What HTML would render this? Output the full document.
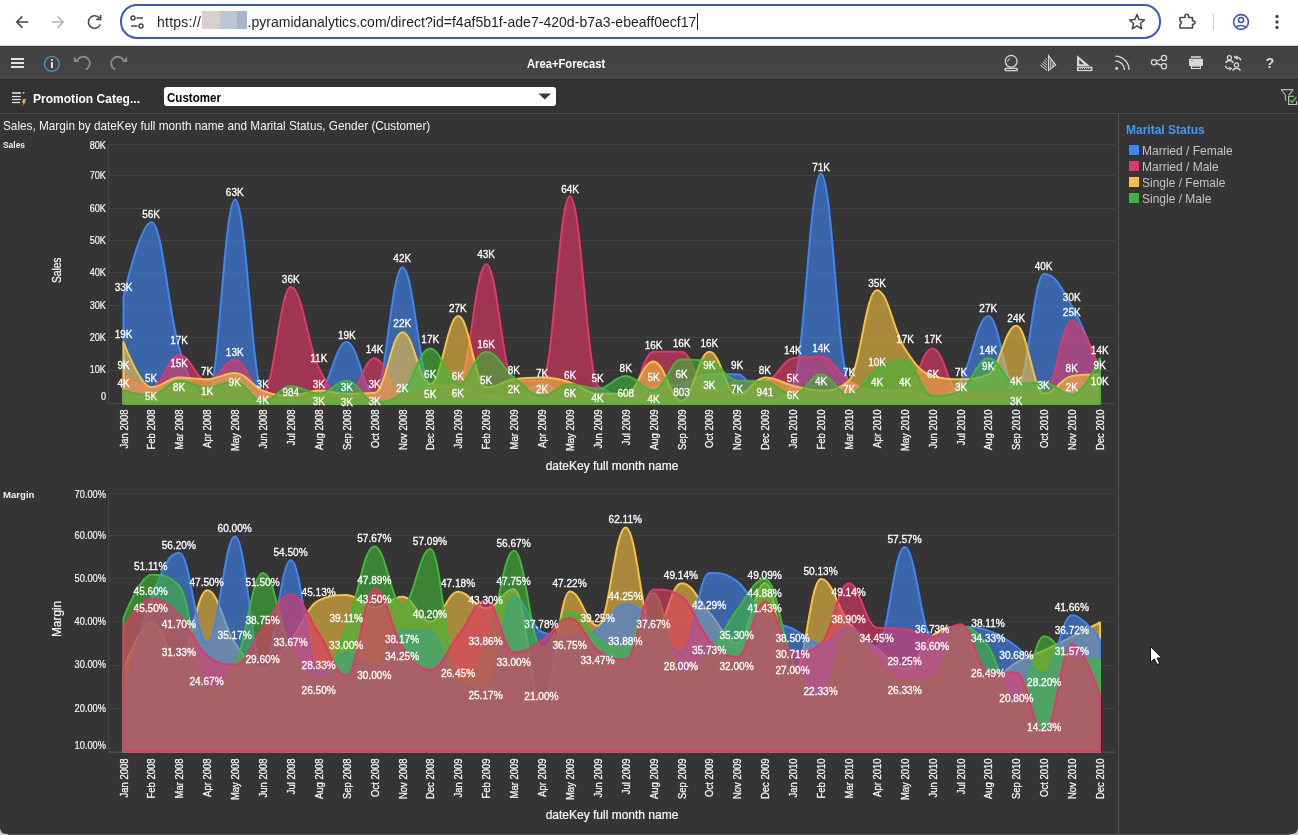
<!DOCTYPE html>
<html><head><meta charset="utf-8"><title>Area+Forecast</title>
<style>
html,body{margin:0;padding:0}
body{width:1298px;height:835px;overflow:hidden;background:#353535;position:relative;font-family:"Liberation Sans",Arial,sans-serif}
.abs{position:absolute}
#browser{left:0;top:0;width:1298px;height:46px;background:#fff}
#url{left:120px;top:4px;width:1037px;height:31px;border:2px solid #3a56c8;border-radius:17px;background:#fff}
.urlt{top:14px;font-size:14px;line-height:16px;color:#1f1f1f;white-space:nowrap}
#toolbar{left:0;top:46px;width:1298px;height:33px;background:linear-gradient(#3c3c3c 0px,#424242 2px,#454545 100%)}
#tbline{left:0;top:79px;width:1298px;height:1px;background:#2b2b2b}
#filterbar{left:0;top:80px;width:1298px;height:33px;background:#333}
#fbline{left:0;top:113px;width:1298px;height:1px;background:#4a4a4a}
#fbline2{left:1119px;top:113px;width:179px;height:1px;background:#4a4a4a}
#title{left:527px;top:57px;color:#fff;font-weight:bold;font-size:12.6px;transform:scaleX(0.89);transform-origin:0 0;white-space:nowrap}
#promo{left:33.3px;top:90.5px;color:#fff;font-weight:bold;font-size:13px;transform:scaleX(0.926);transform-origin:0 0;white-space:nowrap}
#dd{left:164px;top:87px;width:392px;height:19px;background:#fff;border-radius:3px}
#ddtext{left:166.8px;top:89.5px;color:#000;font-weight:bold;font-size:13.3px;transform:scaleX(0.87);transform-origin:0 0;white-space:nowrap}
#vsep{left:1118px;top:114px;width:1px;height:721px;background:#4f4f4f}
#ctitle{left:2.8px;top:118.5px;color:#f4f4f4;font-size:11.9px;white-space:nowrap;transform:scaleX(0.99);transform-origin:0 0}
#salesl{left:3px;top:139px;color:#f0f0f0;font-size:9.8px;font-weight:bold;transform:scaleX(0.86);transform-origin:0 0}
#marginl{left:3px;top:488.6px;color:#f0f0f0;font-size:9.8px;font-weight:bold;transform:scaleX(0.98);transform-origin:0 0}
#legtitle{left:1126px;top:123px;color:#3d9bf5;font-weight:bold;font-size:12px}
.leg{position:absolute;left:1129px;width:10px;height:10px}
.legt{position:absolute;left:1142px;margin-top:0.8px;color:#c4c4c4;font-size:12px;white-space:nowrap}
#charts{position:absolute;left:0;top:0}
</style></head><body>
<div class="abs" id="browser"></div>
<div class="abs" style="left:0;top:45px;width:1298px;height:1px;background:#dadada"></div>
<!-- browser nav icons -->
<svg class="abs" style="left:0;top:0" width="130" height="46" viewBox="0 0 130 46">
 <g fill="none" stroke="#474747" stroke-width="1.6" stroke-linecap="square">
  <path d="M27.5,22 H17 M21.8,17 L16.8,22 L21.8,27"/>
 </g>
 <g fill="none" stroke="#b4b4b4" stroke-width="1.6" stroke-linecap="square">
  <path d="M52.5,22 H63 M58.2,17 L63.2,22 L58.2,27"/>
 </g>
 <g fill="none" stroke="#474747" stroke-width="1.6">
  <path d="M99.5,18.2 A6.2,6.2 0 1 0 100.3,24.5"/>
  <path d="M100.6,15 V19.4 H96.2" stroke-linejoin="miter"/>
 </g>
</svg>
<div class="abs" id="url"></div>
<svg class="abs" style="left:128px;top:13px" width="18" height="18" viewBox="0 0 18 18">
 <g fill="none" stroke="#474747" stroke-width="1.5">
  <circle cx="5" cy="5" r="2"/><path d="M8.5,5 H15"/>
  <circle cx="13" cy="13" r="2"/><path d="M3,13 H9.5"/>
 </g>
</svg>
<div class="abs urlt" style="left:157px;letter-spacing:0.25px">https://</div>
<div class="abs urlt" id="urlrest" style="left:247.5px;letter-spacing:0.03px">.pyramidanalytics.com/direct?id=f4af5b1f-ade7-420d-b7a3-ebeaff0ecf17</div>
<div class="abs" style="left:202px;top:11px;width:18px;height:18px;background:#d9cfcf"></div>
<div class="abs" style="left:220px;top:11px;width:17px;height:18px;background:#bbc5d3"></div>
<div class="abs" style="left:237px;top:11px;width:10px;height:18px;background:#a2b5cc"></div>
<div class="abs" style="left:697px;top:13px;width:1px;height:17px;background:#1f1f1f"></div>
<svg class="abs" style="left:1126px;top:11px" width="22" height="22" viewBox="0 0 22 22">
 <path d="M11,3.5 L13.1,8.6 L18.5,9 L14.4,12.5 L15.7,17.8 L11,14.9 L6.3,17.8 L7.6,12.5 L3.5,9 L8.9,8.6 Z" fill="none" stroke="#474747" stroke-width="1.5" stroke-linejoin="round"/>
</svg>
<svg class="abs" style="left:1176px;top:11px" width="22" height="22" viewBox="0 0 22 22">
 <path d="M4,6.5 H9 V5 A1.8,1.8 0 0 1 12.6,5 V6.5 H16.5 V10 H17.5 A1.6,1.6 0 0 1 17.5,13.2 H16.5 V17 H4 V13.5 A2,2 0 0 0 4,9.8 Z" fill="none" stroke="#474747" stroke-width="1.6" stroke-linejoin="round"/>
</svg>
<div class="abs" style="left:1213px;top:14px;width:1px;height:16px;background:#c5d0f0"></div>
<svg class="abs" style="left:1230px;top:11px" width="22" height="22" viewBox="0 0 22 22">
 <g fill="none" stroke="#3a56c8" stroke-width="1.6">
  <circle cx="11" cy="11" r="7.4"/><circle cx="11" cy="9" r="2.5"/>
  <path d="M6,16.3 A6,4 0 0 1 16,16.3"/>
 </g>
</svg>
<svg class="abs" style="left:1270px;top:11px" width="14" height="22" viewBox="0 0 14 22">
 <g fill="#474747"><circle cx="7" cy="5.5" r="1.7"/><circle cx="7" cy="11" r="1.7"/><circle cx="7" cy="16.5" r="1.7"/></g>
</svg>

<div class="abs" id="toolbar"></div>
<div class="abs" id="tbline"></div>
<!-- left toolbar icons -->
<svg class="abs" style="left:0;top:46px" width="140" height="33" viewBox="0 0 140 33">
 <g fill="#e2e2e2"><rect x="11" y="12" width="13" height="2"/><rect x="11" y="16" width="13" height="2"/><rect x="11" y="20" width="13" height="2"/></g>
 <circle cx="51.8" cy="17.9" r="7.4" fill="none" stroke="#4a9fd6" stroke-width="1.2"/>
 <rect x="51" y="16" width="1.8" height="6" fill="#f0f0f0"/><rect x="51" y="13" width="1.8" height="1.8" fill="#f0f0f0"/>
 <g fill="none" stroke="#8a8a8a" stroke-width="1.9" stroke-linecap="round">
  <path d="M77.8,13.6 A6.6,6.6 0 1 1 86.4,23.1"/>
  <path d="M123.2,13.6 A6.6,6.6 0 1 0 114.6,23.1"/>
 </g>
 <g fill="#8a8a8a">
  <path d="M73.8,10.6 L73.8,16 L79.2,16 Z"/>
  <path d="M127.2,10.6 L127.2,16 L121.8,16 Z"/>
 </g>
</svg>
<div class="abs" id="title">Area+Forecast</div>
<!-- right toolbar icons -->
<svg class="abs" style="left:995px;top:46px" width="303" height="33" viewBox="995 46 303 33">
 <g fill="none" stroke="#d8d8d8" stroke-width="1.25">
  <circle cx="1011.2" cy="61.3" r="5.9"/>
  <path d="M1007.6,61.8 A3.8,3.8 0 0 1 1010.2,58.4" stroke-width="1"/>
  <rect x="1005.2" y="68.3" width="12" height="2.4" rx="0.4"/>
  <path d="M1047.03,56.83 L1047.00,56.81 M1045.67,58.47 L1047.00,59.51 M1044.30,60.10 L1047.00,62.22 M1042.93,61.73 L1047.00,64.92 M1041.57,63.37 L1047.00,67.63 M1040.20,65.00 L1047.00,70.33" stroke-width="1"/>
  <path d="M1048.6,55.8 L1055.6,65 L1048.6,70.4 Z" stroke-width="1.2"/>
  <path d="M1050.8,59.5 V68.5 M1053,62.5 V66.8" stroke-width="1"/>
  <rect x="1077.6" y="67.2" width="14.2" height="3.3"/>
  <path d="M1078.60,67.6 V69 M1080.55,67.6 V69 M1082.50,67.6 V69 M1084.45,67.6 V69 M1086.40,67.6 V69 M1088.35,67.6 V69 M1090.30,67.6 V69" stroke-width="0.9"/>
  <path d="M1115.3,60.8 A9.2,9.2 0 0 1 1124.5,70 M1115.3,56.2 A13.8,13.8 0 0 1 1129.1,70" stroke-width="1.3"/>
  <circle cx="1154" cy="62.3" r="2.6"/><circle cx="1164" cy="58" r="2.6"/><circle cx="1164" cy="66.3" r="2.6"/>
  <path d="M1156.4,61.2 L1161.6,59 M1156.4,63.4 L1161.6,65.3"/>
  <rect x="1191.4" y="66" width="9" height="2.5" stroke-width="1.1"/>
  <circle cx="1229.4" cy="57.8" r="2.1" stroke-width="1.2"/><path d="M1225.6,62.9 A4.2,4 0 0 1 1233.3,62.9" stroke-width="1.4"/>
  <circle cx="1236.5" cy="64.9" r="2.1" stroke-width="1.2"/><path d="M1232.7,70.6 A4.2,4 0 0 1 1240.4,70.6" stroke-width="1.4"/>
  <path d="M1240.8,60.4 A3.6,3.2 0 0 0 1236.4,57.5" stroke-width="1.4"/>
  <path d="M1225.4,65.8 A3.6,3.2 0 0 0 1229.6,68.6" stroke-width="1.4"/>
 </g>
 <g fill="#d8d8d8">
  <circle cx="1116.6" cy="68.2" r="1.5"/>
  <path d="M1077,55.3 L1077,66.1 L1089.9,66.1 Z M1079.3,59.6 L1079.3,64.2 L1083.8,64.2 Z" fill-rule="evenodd"/>
  <rect x="1190.9" y="56.2" width="10" height="1.6"/>
  <rect x="1189" y="58.8" width="14" height="7.2" rx="1"/>
  <path d="M1234,55.6 L1237,57.6 L1237,59.6 L1234,57.6 Z M1234.2,57.4 L1237.6,55.2 L1237.6,59.8 Z"/>
  <path d="M1232.2,68.6 L1229.4,66.4 L1229.4,70.8 Z"/>
  <text x="1269.9" y="67.9" font-size="14.5" font-weight="bold" text-anchor="middle" font-family="Liberation Sans, sans-serif">?</text>
 </g>
 <rect x="1191.3" y="60" width="1.6" height="0.7" fill="#555"/>
</svg>

<div class="abs" id="filterbar"></div>
<div class="abs" id="fbline"></div>
<div class="abs" id="fbline2"></div>
<svg class="abs" style="left:8px;top:88px" width="22" height="20" viewBox="8 88 22 20">
 <g fill="#e4e4e4"><rect x="12" y="92.2" width="8.9" height="1.6"/><rect x="12" y="95.9" width="8.9" height="1.2"/><rect x="12" y="98.9" width="8.9" height="1.2"/><rect x="12" y="101.9" width="8" height="1.2"/>
 <path d="M22.1,92.2 L25,92.2 L23.55,93.9 Z"/></g>
 <path d="M23.3,99 L26.1,99 L24.6,101.6 L26,101.6 L22.3,106 L23.4,102.6 L21.9,102.6 Z" fill="#f5b02e"/>
</svg>
<div class="abs" id="promo">Promotion Categ...</div>
<div class="abs" id="dd"></div>
<div class="abs" id="ddtext">Customer</div>
<svg class="abs" style="left:537px;top:92px" width="16" height="9" viewBox="0 0 16 9"><path d="M1.5,1.5 H14 L7.75,7.5 Z" fill="#3a3a3a"/></svg>
<svg class="abs" style="left:1279px;top:88px" width="19" height="19" viewBox="1279 88 19 19">
 <path d="M1281.8,89.6 H1292.6 Q1293.4,89.6 1292.9,90.3 L1288.7,95.2 M1281.8,89.6 Q1281,89.6 1281.5,90.3 L1285.4,95 V99.8 Q1285.4,100.4 1286.4,100.4" fill="none" stroke="#bdbdbd" stroke-width="1.05"/>
 <path d="M1293.9,96.3 H1288.6 V104.5 H1296.6 V101.2" fill="none" stroke="#c6c6c6" stroke-width="1.1"/>
 <path d="M1290.4,100.6 L1292,102.4 L1295.8,97.7" fill="none" stroke="#3cbb3c" stroke-width="1.7" stroke-linecap="round" stroke-linejoin="round"/>
</svg>

<div class="abs" id="vsep"></div>
<div class="abs" id="ctitle">Sales, Margin by dateKey full month name and Marital Status, Gender (Customer)</div>
<div class="abs" id="salesl">Sales</div>
<div class="abs" id="marginl">Margin</div>
<div class="abs" id="legtitle">Marital Status</div>
<div class="leg" style="top:145px;background:#3d86f5"></div><div class="legt" style="top:143px">Married / Female</div>
<div class="leg" style="top:161px;background:#e0386c"></div><div class="legt" style="top:159px">Married / Male</div>
<div class="leg" style="top:177px;background:#fbbd45"></div><div class="legt" style="top:175px">Single / Female</div>
<div class="leg" style="top:193px;background:#3cb53c"></div><div class="legt" style="top:191px">Single / Male</div>
<svg id="charts" width="1298" height="835" viewBox="0 0 1298 835">
<rect x="109" y="144" width="1006" height="1" fill="#414141"/>
<rect x="109" y="175" width="1006" height="1" fill="#414141"/>
<rect x="109" y="208" width="1006" height="1" fill="#414141"/>
<rect x="109" y="240" width="1006" height="1" fill="#414141"/>
<rect x="109" y="272" width="1006" height="1" fill="#414141"/>
<rect x="109" y="305" width="1006" height="1" fill="#414141"/>
<rect x="109" y="337" width="1006" height="1" fill="#414141"/>
<rect x="109" y="370" width="1006" height="1" fill="#414141"/>
<rect x="109" y="403" width="1006" height="1" fill="#4b4b4b"/>
<rect x="109" y="493" width="1006" height="1" fill="#414141"/>
<rect x="109" y="535" width="1006" height="1" fill="#414141"/>
<rect x="109" y="578" width="1006" height="1" fill="#414141"/>
<rect x="109" y="621" width="1006" height="1" fill="#414141"/>
<rect x="109" y="665" width="1006" height="1" fill="#414141"/>
<rect x="109" y="708" width="1006" height="1" fill="#414141"/>
<rect x="109" y="751" width="1006" height="1" fill="#444444"/>
<rect x="109" y="752" width="1006" height="1" fill="#4b4b4b"/>
<rect x="108" y="144" width="1" height="259" fill="#464646"/>
<rect x="108" y="493" width="1" height="259" fill="#464646"/>
<path d="M123.50,296.66 C123.50,296.66 140.24,222.20 151.40,222.20 C162.56,222.20 168.14,312.85 179.30,348.46 C190.46,384.07 196.04,400.26 207.20,400.26 C218.36,400.26 223.94,199.54 235.10,199.54 C246.26,199.54 251.84,387.31 263.00,393.79 C274.16,400.26 279.74,400.26 290.90,400.26 C302.06,400.26 307.64,400.26 318.80,393.79 C329.96,387.31 335.54,341.99 346.70,341.99 C357.86,341.99 363.44,393.79 374.60,393.79 C385.76,393.79 391.34,267.52 402.50,267.52 C413.66,267.52 419.24,380.84 430.40,384.07 C441.56,387.31 447.14,385.05 458.30,387.31 C469.46,389.58 475.04,393.79 486.20,395.41 C497.36,397.02 502.94,397.02 514.10,397.02 C525.26,397.02 530.84,384.07 542.00,384.07 C553.16,384.07 558.74,393.79 569.90,393.79 C581.06,393.79 586.64,387.31 597.80,387.31 C608.96,387.31 614.54,401.56 625.70,401.56 C636.86,401.56 642.44,390.55 653.60,387.31 C664.76,384.07 670.34,386.67 681.50,384.07 C692.66,381.48 698.24,374.36 709.40,374.36 C720.56,374.36 726.14,374.36 737.30,374.36 C748.46,374.36 754.04,400.59 765.20,400.59 C776.36,400.59 781.94,400.59 793.10,384.07 C804.26,367.56 809.84,173.64 821.00,173.64 C832.16,173.64 837.74,371.12 848.90,380.84 C860.06,390.55 865.64,390.55 876.80,390.55 C887.96,390.55 893.54,390.55 904.70,390.55 C915.86,390.55 921.44,397.02 932.60,397.02 C943.76,397.02 949.34,397.02 960.50,380.84 C971.66,364.65 977.24,316.09 988.40,316.09 C999.56,316.09 1005.14,390.55 1016.30,390.55 C1027.46,390.55 1033.04,274.00 1044.20,274.00 C1055.36,274.00 1060.94,286.95 1072.10,306.38 C1083.26,325.80 1100.00,371.12 1100.00,371.12 L1100.00,403.50 L123.50,403.50 Z" fill="#3d86f5" fill-opacity="0.6" stroke="#3d86f5" stroke-width="2" stroke-linejoin="round"/>

<path d="M123.50,374.36 C123.50,374.36 140.24,387.31 151.40,387.31 C162.56,387.31 168.14,354.94 179.30,354.94 C190.46,354.94 196.04,380.84 207.20,380.84 C218.36,380.84 223.94,360.12 235.10,360.12 C246.26,360.12 251.84,392.17 263.00,392.17 C274.16,392.17 279.74,286.95 290.90,286.95 C302.06,286.95 307.64,345.87 318.80,367.89 C329.96,389.90 335.54,397.02 346.70,397.02 C357.86,397.02 363.44,358.18 374.60,358.18 C385.76,358.18 391.34,397.02 402.50,397.02 C413.66,397.02 419.24,389.90 430.40,387.31 C441.56,384.72 447.14,387.31 458.30,384.07 C469.46,380.84 475.04,264.29 486.20,264.29 C497.36,264.29 502.94,380.84 514.10,380.84 C525.26,380.84 530.84,380.84 542.00,380.84 C553.16,380.84 558.74,196.30 569.90,196.30 C581.06,196.30 586.64,371.13 597.80,385.69 C608.96,400.26 614.54,400.26 625.70,400.26 C636.86,400.26 642.44,351.70 653.60,351.70 C664.76,351.70 670.34,351.70 681.50,351.70 C692.66,351.70 698.24,393.79 709.40,393.79 C720.56,393.79 726.14,380.84 737.30,380.84 C748.46,380.84 754.04,380.84 765.20,380.84 C776.36,380.84 781.94,359.79 793.10,358.18 C804.26,356.56 809.84,356.56 821.00,356.56 C832.16,356.56 837.74,374.04 848.90,380.84 C860.06,387.64 865.64,390.55 876.80,390.55 C887.96,390.55 893.54,390.55 904.70,390.55 C915.86,390.55 921.44,348.46 932.60,348.46 C943.76,348.46 949.34,393.79 960.50,393.79 C971.66,393.79 977.24,393.79 988.40,393.79 C999.56,393.79 1005.14,393.79 1016.30,393.79 C1027.46,393.79 1033.04,393.79 1044.20,393.79 C1055.36,393.79 1060.94,320.94 1072.10,320.94 C1083.26,320.94 1100.00,371.12 1100.00,371.12 L1100.00,403.50 L123.50,403.50 Z" fill="#e53668" fill-opacity="0.6" stroke="#e53668" stroke-width="2" stroke-linejoin="round"/>

<path d="M123.50,341.99 C123.50,341.99 140.24,387.31 151.40,387.31 C162.56,387.31 168.14,377.60 179.30,377.60 C190.46,377.60 196.04,379.22 207.20,379.22 C218.36,379.22 223.94,373.07 235.10,373.07 C246.26,373.07 251.84,385.95 263.00,390.55 C274.16,395.15 279.74,396.05 290.90,396.05 C302.06,396.05 307.64,390.55 318.80,390.55 C329.96,390.55 335.54,393.79 346.70,393.79 C357.86,393.79 363.44,393.79 374.60,392.82 C385.76,391.85 391.34,332.27 402.50,332.27 C413.66,332.27 419.24,384.07 430.40,384.07 C441.56,384.07 447.14,316.09 458.30,316.09 C469.46,316.09 475.04,387.31 486.20,387.31 C497.36,387.31 502.94,380.84 514.10,379.22 C525.26,377.60 530.84,377.60 542.00,377.60 C553.16,377.60 558.74,379.22 569.90,382.46 C581.06,385.69 586.64,393.79 597.80,393.79 C608.96,393.79 614.54,393.79 625.70,393.79 C636.86,393.79 642.44,361.41 653.60,361.41 C664.76,361.41 670.34,400.91 681.50,400.91 C692.66,400.91 698.24,351.70 709.40,351.70 C720.56,351.70 726.14,394.76 737.30,394.76 C748.46,394.76 754.04,377.60 765.20,377.60 C776.36,377.60 781.94,383.10 793.10,385.69 C804.26,388.28 809.84,390.55 821.00,390.55 C832.16,390.55 837.74,390.55 848.90,380.84 C860.06,371.12 865.64,290.19 876.80,290.19 C887.96,290.19 893.54,331.30 904.70,348.46 C915.86,365.62 921.44,372.74 932.60,375.98 C943.76,379.22 949.34,379.22 960.50,379.22 C971.66,379.22 977.24,379.22 988.40,374.36 C999.56,369.51 1005.14,325.80 1016.30,325.80 C1027.46,325.80 1033.04,393.79 1044.20,393.79 C1055.36,393.79 1060.94,377.60 1072.10,375.98 C1083.26,374.36 1100.00,374.36 1100.00,374.36 L1100.00,403.50 L123.50,403.50 Z" fill="#f6c240" fill-opacity="0.6" stroke="#f6c240" stroke-width="2" stroke-linejoin="round"/>

<path d="M123.50,390.55 C123.50,390.55 140.24,395.41 151.40,395.41 C162.56,395.41 168.14,380.84 179.30,380.84 C190.46,380.84 196.04,387.31 207.20,387.31 C218.36,387.31 223.94,381.49 235.10,381.49 C246.26,381.49 251.84,401.88 263.00,401.88 C274.16,401.88 279.74,386.02 290.90,386.02 C302.06,386.02 307.64,393.79 318.80,393.79 C329.96,393.79 335.54,380.84 346.70,380.84 C357.86,380.84 363.44,401.88 374.60,401.88 C385.76,401.88 391.34,401.88 402.50,392.17 C413.66,382.46 419.24,348.46 430.40,348.46 C441.56,348.46 447.14,384.07 458.30,384.07 C469.46,384.07 475.04,351.70 486.20,351.70 C497.36,351.70 502.94,368.73 514.10,377.60 C525.26,386.47 530.84,396.05 542.00,396.05 C553.16,396.05 558.74,384.07 569.90,384.07 C581.06,384.07 586.64,388.93 597.80,388.93 C608.96,388.93 614.54,375.98 625.70,375.98 C636.86,375.98 642.44,390.55 653.60,390.55 C664.76,390.55 670.34,359.47 681.50,359.47 C692.66,359.47 698.24,359.47 709.40,361.41 C720.56,363.36 726.14,379.87 737.30,380.84 C748.46,381.81 754.04,380.84 765.20,381.81 C776.36,382.78 781.94,394.76 793.10,394.76 C804.26,394.76 809.84,374.36 821.00,374.36 C832.16,374.36 837.74,394.44 848.90,394.44 C860.06,394.44 865.64,376.43 876.80,369.51 C887.96,362.58 893.54,359.79 904.70,359.79 C915.86,359.79 921.44,396.05 932.60,396.05 C943.76,396.05 949.34,396.05 960.50,390.55 C971.66,385.05 977.24,358.18 988.40,358.18 C999.56,358.18 1005.14,384.07 1016.30,384.07 C1027.46,384.07 1033.04,382.46 1044.20,382.46 C1055.36,382.46 1060.94,395.08 1072.10,395.08 C1083.26,395.08 1100.00,358.18 1100.00,358.18 L1100.00,403.50 L123.50,403.50 Z" fill="#40b836" fill-opacity="0.6" stroke="#40b836" stroke-width="2" stroke-linejoin="round"/>

<path d="M123.50,669.80 C123.50,669.80 140.24,622.50 151.40,622.50 C162.56,622.50 168.14,659.78 179.30,659.78 C190.46,659.78 196.04,590.25 207.20,590.25 C218.36,590.25 223.94,627.36 235.10,643.27 C246.26,659.18 251.84,669.80 263.00,669.80 C274.16,669.80 279.74,653.57 290.90,639.70 C302.06,625.83 307.64,605.90 318.80,600.44 C329.96,594.98 335.54,594.98 346.70,594.98 C357.86,594.98 363.44,607.45 374.60,607.45 C385.76,607.45 391.34,596.70 402.50,596.70 C413.66,596.70 419.24,621.64 430.40,621.64 C441.56,621.64 447.14,591.63 458.30,591.63 C469.46,591.63 475.04,608.31 486.20,608.31 C497.36,608.31 502.94,589.17 514.10,589.17 C525.26,589.17 530.84,704.20 542.00,704.20 C553.16,704.20 558.74,591.45 569.90,591.45 C581.06,591.45 586.64,625.73 597.80,625.73 C608.96,625.73 614.54,527.43 625.70,527.43 C636.86,527.43 642.44,632.52 653.60,632.52 C664.76,632.52 670.34,583.20 681.50,583.20 C692.66,583.20 698.24,600.75 709.40,612.65 C720.56,624.56 726.14,642.71 737.30,642.71 C748.46,642.71 754.04,582.94 765.20,582.94 C776.36,582.94 781.94,678.40 793.10,678.40 C804.26,678.40 809.84,578.94 821.00,578.94 C832.16,578.94 837.74,608.63 848.90,622.50 C860.06,636.37 865.64,639.05 876.80,648.30 C887.96,657.54 893.54,668.73 904.70,668.73 C915.86,668.73 921.44,643.78 932.60,635.40 C943.76,627.01 949.34,626.80 960.50,626.80 C971.66,626.80 977.24,680.59 988.40,680.59 C999.56,680.59 1005.14,668.60 1016.30,662.58 C1027.46,656.55 1033.04,655.64 1044.20,650.45 C1055.36,645.26 1060.94,642.19 1072.10,636.60 C1083.26,631.01 1100.00,622.50 1100.00,622.50 L1100.00,751.50 L123.50,751.50 Z" fill="#f6c240" fill-opacity="0.6" stroke="#f6c240" stroke-width="2" stroke-linejoin="round"/>

<path d="M123.50,699.90 C123.50,699.90 140.24,627.83 151.40,598.42 C162.56,569.01 168.14,552.84 179.30,552.84 C190.46,552.84 196.04,643.14 207.20,643.14 C218.36,643.14 223.94,536.50 235.10,536.50 C246.26,536.50 251.84,667.22 263.00,667.22 C274.16,667.22 279.74,560.15 290.90,560.15 C302.06,560.15 307.64,672.68 318.80,672.68 C329.96,672.68 335.54,652.60 346.70,652.60 C357.86,652.60 363.44,665.50 374.60,665.50 C385.76,665.50 391.34,630.37 402.50,630.37 C413.66,630.37 419.24,630.37 430.40,631.10 C441.56,631.83 447.14,683.43 458.30,684.85 C469.46,686.27 475.04,686.27 486.20,686.27 C497.36,686.27 502.94,596.70 514.10,596.70 C525.26,596.70 530.84,627.62 542.00,632.05 C553.16,636.48 558.74,636.48 569.90,636.48 C581.06,636.48 586.64,635.83 597.80,629.38 C608.96,622.93 614.54,604.23 625.70,604.23 C636.86,604.23 642.44,612.82 653.60,622.50 C664.76,632.17 670.34,652.60 681.50,652.60 C692.66,652.60 698.24,573.05 709.40,573.05 C720.56,573.05 726.14,573.05 737.30,581.65 C748.46,590.25 754.04,606.89 765.20,616.35 C776.36,625.81 781.94,623.42 793.10,628.95 C804.26,634.48 809.84,644.00 821.00,644.00 C832.16,644.00 837.74,627.23 848.90,627.23 C860.06,627.23 865.64,646.37 876.80,646.37 C887.96,646.37 893.54,546.95 904.70,546.95 C915.86,546.95 921.44,637.12 932.60,637.12 C943.76,637.12 949.34,626.80 960.50,626.80 C971.66,626.80 977.24,626.80 988.40,630.63 C999.56,634.45 1005.14,638.06 1016.30,646.58 C1027.46,655.10 1033.04,673.24 1044.20,673.24 C1055.36,673.24 1060.94,615.36 1072.10,615.36 C1083.26,615.36 1100.00,639.70 1100.00,639.70 L1100.00,751.50 L123.50,751.50 Z" fill="#3d86f5" fill-opacity="0.6" stroke="#3d86f5" stroke-width="2" stroke-linejoin="round"/>

<path d="M123.50,618.20 C123.50,618.20 140.24,574.73 151.40,574.73 C162.56,574.73 168.14,574.73 179.30,585.95 C190.46,597.17 196.04,688.42 207.20,688.42 C218.36,688.42 223.94,688.42 235.10,665.50 C246.26,642.58 251.84,573.05 263.00,573.05 C274.16,573.05 279.74,628.22 290.90,649.72 C302.06,671.22 307.64,680.55 318.80,680.55 C329.96,680.55 335.54,653.13 346.70,626.33 C357.86,599.52 363.44,546.52 374.60,546.52 C385.76,546.52 391.34,605.30 402.50,605.30 C413.66,605.30 419.24,549.01 430.40,549.01 C441.56,549.01 447.14,680.76 458.30,680.76 C469.46,680.76 475.04,674.89 486.20,648.90 C497.36,622.91 502.94,550.82 514.10,550.82 C525.26,550.82 530.84,648.30 542.00,648.30 C553.16,648.30 558.74,611.75 569.90,611.75 C581.06,611.75 586.64,632.29 597.80,639.70 C608.96,647.11 614.54,648.82 625.70,648.82 C636.86,648.82 642.44,593.26 653.60,593.26 C664.76,593.26 670.34,674.10 681.50,674.10 C692.66,674.10 698.24,665.50 709.40,652.60 C720.56,639.70 726.14,624.31 737.30,609.60 C748.46,594.89 754.04,579.07 765.20,579.07 C776.36,579.07 781.94,638.56 793.10,662.45 C804.26,686.33 809.84,698.48 821.00,698.48 C832.16,698.48 837.74,629.38 848.90,629.38 C860.06,629.38 865.64,651.68 876.80,662.06 C887.96,672.44 893.54,681.28 904.70,681.28 C915.86,681.28 921.44,681.28 932.60,678.40 C943.76,675.52 949.34,626.80 960.50,626.80 C971.66,626.80 977.24,631.23 988.40,646.88 C999.56,662.53 1005.14,705.06 1016.30,705.06 C1027.46,705.06 1033.04,636.26 1044.20,636.26 C1055.36,636.26 1060.94,658.02 1072.10,658.75 C1083.26,659.48 1100.00,659.48 1100.00,659.48 L1100.00,751.50 L123.50,751.50 Z" fill="#40b836" fill-opacity="0.6" stroke="#40b836" stroke-width="2" stroke-linejoin="round"/>

<path d="M123.50,627.66 C123.50,627.66 140.24,598.85 151.40,598.85 C162.56,598.85 168.14,603.75 179.30,615.19 C190.46,626.63 196.04,647.44 207.20,656.04 C218.36,664.64 223.94,664.64 235.10,664.64 C246.26,664.64 251.84,641.89 263.00,627.88 C274.16,613.86 279.74,594.55 290.90,594.55 C302.06,594.55 307.64,617.43 318.80,633.68 C329.96,649.93 335.54,675.82 346.70,675.82 C357.86,675.82 363.44,588.57 374.60,588.57 C385.76,588.57 391.34,630.98 402.50,647.23 C413.66,663.47 419.24,669.80 430.40,669.80 C441.56,669.80 447.14,649.33 458.30,635.40 C469.46,621.47 475.04,600.14 486.20,600.14 C497.36,600.14 502.94,652.60 514.10,652.60 C525.26,652.60 530.84,647.44 542.00,640.56 C553.16,633.68 558.74,618.20 569.90,618.20 C581.06,618.20 586.64,642.32 597.80,650.58 C608.96,658.84 614.54,659.48 625.70,659.48 C636.86,659.48 642.44,589.39 653.60,589.39 C664.76,589.39 670.34,589.39 681.50,596.70 C692.66,604.01 698.24,628.82 709.40,640.86 C720.56,652.90 726.14,656.90 737.30,656.90 C748.46,656.90 754.04,601.52 765.20,601.52 C776.36,601.52 781.94,652.60 793.10,652.60 C804.26,652.60 809.84,652.60 821.00,644.00 C832.16,635.40 837.74,583.20 848.90,583.20 C860.06,583.20 865.64,626.37 876.80,627.66 C887.96,628.95 893.54,627.66 904.70,628.95 C915.86,630.24 921.44,636.56 932.60,636.56 C943.76,636.56 949.34,624.22 960.50,624.22 C971.66,624.22 977.24,671.09 988.40,671.95 C999.56,672.81 1005.14,671.95 1016.30,672.81 C1027.46,673.67 1033.04,733.31 1044.20,733.31 C1055.36,733.31 1060.94,644.00 1072.10,644.00 C1083.26,644.00 1100.00,695.60 1100.00,695.60 L1100.00,751.50 L123.50,751.50 Z" fill="#e53668" fill-opacity="0.6" stroke="#e53668" stroke-width="2" stroke-linejoin="round"/>

<g font-size="11" fill="#ffffff" stroke="#ffffff" stroke-width="0.3" text-anchor="middle" font-family="Liberation Sans, sans-serif">
<text transform="translate(123.6,291.0) scale(0.905,1)">33K</text>
<text transform="translate(123.6,338.3) scale(0.905,1)">19K</text>
<text transform="translate(123.6,368.8) scale(0.905,1)">9K</text>
<text transform="translate(123.6,386.9) scale(0.905,1)">4K</text>
<text transform="translate(151.0,218.4) scale(0.905,1)">56K</text>
<text transform="translate(151.0,382.2) scale(0.905,1)">5K</text>
<text transform="translate(151.0,400.0) scale(0.905,1)">5K</text>
<text transform="translate(179.0,343.9) scale(0.905,1)">17K</text>
<text transform="translate(179.0,367.3) scale(0.905,1)">15K</text>
<text transform="translate(179.0,390.6) scale(0.905,1)">8K</text>
<text transform="translate(207.0,375.0) scale(0.905,1)">7K</text>
<text transform="translate(207.0,394.7) scale(0.905,1)">1K</text>
<text transform="translate(234.7,196.0) scale(0.905,1)">63K</text>
<text transform="translate(234.7,356.4) scale(0.905,1)">13K</text>
<text transform="translate(234.7,386.0) scale(0.905,1)">9K</text>
<text transform="translate(262.7,388.1) scale(0.905,1)">3K</text>
<text transform="translate(262.7,403.7) scale(0.905,1)">4K</text>
<text transform="translate(290.7,282.6) scale(0.905,1)">36K</text>
<text transform="translate(290.7,396.2) scale(0.905,1)">984</text>
<text transform="translate(318.8,362.0) scale(0.905,1)">11K</text>
<text transform="translate(318.8,388.1) scale(0.905,1)">3K</text>
<text transform="translate(318.8,404.6) scale(0.905,1)">3K</text>
<text transform="translate(346.8,339.2) scale(0.905,1)">19K</text>
<text transform="translate(346.8,390.6) scale(0.905,1)">3K</text>
<text transform="translate(346.8,405.6) scale(0.905,1)">3K</text>
<text transform="translate(374.5,353.3) scale(0.905,1)">14K</text>
<text transform="translate(374.5,388.1) scale(0.905,1)">3K</text>
<text transform="translate(374.5,404.6) scale(0.905,1)">3K</text>
<text transform="translate(402.2,262.3) scale(0.905,1)">42K</text>
<text transform="translate(402.2,327.4) scale(0.905,1)">22K</text>
<text transform="translate(402.2,392.2) scale(0.905,1)">2K</text>
<text transform="translate(430.2,343.0) scale(0.905,1)">17K</text>
<text transform="translate(430.2,377.5) scale(0.905,1)">6K</text>
<text transform="translate(430.2,397.8) scale(0.905,1)">5K</text>
<text transform="translate(457.9,312.3) scale(0.905,1)">27K</text>
<text transform="translate(457.9,380.1) scale(0.905,1)">6K</text>
<text transform="translate(457.9,397.3) scale(0.905,1)">6K</text>
<text transform="translate(486.0,258.0) scale(0.905,1)">43K</text>
<text transform="translate(486.0,348.2) scale(0.905,1)">16K</text>
<text transform="translate(486.0,384.4) scale(0.905,1)">5K</text>
<text transform="translate(513.9,373.8) scale(0.905,1)">8K</text>
<text transform="translate(513.9,393.3) scale(0.905,1)">2K</text>
<text transform="translate(542.1,377.2) scale(0.905,1)">7K</text>
<text transform="translate(542.1,392.5) scale(0.905,1)">2K</text>
<text transform="translate(570.0,193.3) scale(0.905,1)">64K</text>
<text transform="translate(570.0,379.0) scale(0.905,1)">6K</text>
<text transform="translate(570.0,397.3) scale(0.905,1)">6K</text>
<text transform="translate(597.6,382.1) scale(0.905,1)">5K</text>
<text transform="translate(597.6,401.9) scale(0.905,1)">4K</text>
<text transform="translate(625.7,372.3) scale(0.905,1)">8K</text>
<text transform="translate(625.7,397.3) scale(0.905,1)">608</text>
<text transform="translate(653.6,348.8) scale(0.905,1)">16K</text>
<text transform="translate(653.6,381.0) scale(0.905,1)">5K</text>
<text transform="translate(653.6,403.1) scale(0.905,1)">4K</text>
<text transform="translate(681.5,347.3) scale(0.905,1)">16K</text>
<text transform="translate(681.5,378.1) scale(0.905,1)">6K</text>
<text transform="translate(681.5,396.2) scale(0.905,1)">803</text>
<text transform="translate(709.4,347.3) scale(0.905,1)">16K</text>
<text transform="translate(709.4,368.6) scale(0.905,1)">9K</text>
<text transform="translate(709.4,389.0) scale(0.905,1)">3K</text>
<text transform="translate(737.0,368.6) scale(0.905,1)">9K</text>
<text transform="translate(737.0,393.0) scale(0.905,1)">7K</text>
<text transform="translate(764.9,374.2) scale(0.905,1)">8K</text>
<text transform="translate(764.9,396.3) scale(0.905,1)">941</text>
<text transform="translate(792.9,354.2) scale(0.905,1)">14K</text>
<text transform="translate(792.9,382.3) scale(0.905,1)">5K</text>
<text transform="translate(792.9,398.5) scale(0.905,1)">6K</text>
<text transform="translate(821.0,171.1) scale(0.905,1)">71K</text>
<text transform="translate(821.0,352.4) scale(0.905,1)">14K</text>
<text transform="translate(821.0,385.4) scale(0.905,1)">4K</text>
<text transform="translate(849.0,376.0) scale(0.905,1)">7K</text>
<text transform="translate(849.0,393.2) scale(0.905,1)">7K</text>
<text transform="translate(877.0,287.3) scale(0.905,1)">35K</text>
<text transform="translate(877.0,366.4) scale(0.905,1)">10K</text>
<text transform="translate(877.0,386.0) scale(0.905,1)">4K</text>
<text transform="translate(905.0,343.0) scale(0.905,1)">17K</text>
<text transform="translate(905.0,386.0) scale(0.905,1)">4K</text>
<text transform="translate(933.1,343.0) scale(0.905,1)">17K</text>
<text transform="translate(933.1,378.2) scale(0.905,1)">6K</text>
<text transform="translate(961.1,376.0) scale(0.905,1)">7K</text>
<text transform="translate(961.1,391.3) scale(0.905,1)">3K</text>
<text transform="translate(988.2,312.2) scale(0.905,1)">27K</text>
<text transform="translate(988.2,354.2) scale(0.905,1)">14K</text>
<text transform="translate(988.2,369.8) scale(0.905,1)">9K</text>
<text transform="translate(1016.2,322.2) scale(0.905,1)">24K</text>
<text transform="translate(1016.2,384.5) scale(0.905,1)">4K</text>
<text transform="translate(1016.2,404.7) scale(0.905,1)">3K</text>
<text transform="translate(1043.6,270.2) scale(0.905,1)">40K</text>
<text transform="translate(1043.6,389.1) scale(0.905,1)">3K</text>
<text transform="translate(1071.7,301.0) scale(0.905,1)">30K</text>
<text transform="translate(1071.7,316.0) scale(0.905,1)">25K</text>
<text transform="translate(1071.7,372.0) scale(0.905,1)">8K</text>
<text transform="translate(1071.7,391.3) scale(0.905,1)">2K</text>
<text transform="translate(1099.7,354.2) scale(0.905,1)">14K</text>
<text transform="translate(1099.7,368.9) scale(0.905,1)">9K</text>
<text transform="translate(1099.7,384.5) scale(0.905,1)">10K</text>
<text transform="translate(150.7,570.1) scale(0.917,1)">51.11%</text>
<text transform="translate(150.7,594.5) scale(0.917,1)">45.60%</text>
<text transform="translate(150.7,612.2) scale(0.917,1)">45.50%</text>
<text transform="translate(178.8,548.7) scale(0.917,1)">56.20%</text>
<text transform="translate(178.8,628.1) scale(0.917,1)">41.70%</text>
<text transform="translate(178.8,656.2) scale(0.917,1)">31.33%</text>
<text transform="translate(206.6,586.0) scale(0.917,1)">47.50%</text>
<text transform="translate(206.6,685.2) scale(0.917,1)">24.67%</text>
<text transform="translate(234.7,531.9) scale(0.917,1)">60.00%</text>
<text transform="translate(234.7,639.4) scale(0.917,1)">35.17%</text>
<text transform="translate(262.5,586.0) scale(0.917,1)">51.50%</text>
<text transform="translate(262.5,624.1) scale(0.917,1)">38.75%</text>
<text transform="translate(262.5,663.2) scale(0.917,1)">29.60%</text>
<text transform="translate(290.6,556.3) scale(0.917,1)">54.50%</text>
<text transform="translate(290.6,645.8) scale(0.917,1)">33.67%</text>
<text transform="translate(318.7,596.0) scale(0.917,1)">45.13%</text>
<text transform="translate(318.7,668.7) scale(0.917,1)">28.33%</text>
<text transform="translate(318.7,693.7) scale(0.917,1)">26.50%</text>
<text transform="translate(346.2,622.0) scale(0.917,1)">39.11%</text>
<text transform="translate(346.2,648.8) scale(0.917,1)">33.00%</text>
<text transform="translate(374.3,542.0) scale(0.917,1)">57.67%</text>
<text transform="translate(374.3,583.8) scale(0.917,1)">47.89%</text>
<text transform="translate(374.3,603.0) scale(0.917,1)">43.50%</text>
<text transform="translate(374.3,679.1) scale(0.917,1)">30.00%</text>
<text transform="translate(402.0,642.7) scale(0.917,1)">38.17%</text>
<text transform="translate(402.0,659.5) scale(0.917,1)">34.25%</text>
<text transform="translate(429.9,545.0) scale(0.917,1)">57.09%</text>
<text transform="translate(429.9,618.0) scale(0.917,1)">40.20%</text>
<text transform="translate(458.0,586.9) scale(0.917,1)">47.18%</text>
<text transform="translate(458.0,677.0) scale(0.917,1)">26.45%</text>
<text transform="translate(485.5,604.3) scale(0.917,1)">43.30%</text>
<text transform="translate(485.5,644.9) scale(0.917,1)">33.86%</text>
<text transform="translate(485.5,699.2) scale(0.917,1)">25.17%</text>
<text transform="translate(513.6,547.2) scale(0.917,1)">56.67%</text>
<text transform="translate(513.6,584.7) scale(0.917,1)">47.75%</text>
<text transform="translate(513.6,665.6) scale(0.917,1)">33.00%</text>
<text transform="translate(541.4,628.1) scale(0.917,1)">37.78%</text>
<text transform="translate(541.4,699.8) scale(0.917,1)">21.00%</text>
<text transform="translate(569.5,586.9) scale(0.917,1)">47.22%</text>
<text transform="translate(569.5,648.8) scale(0.917,1)">36.75%</text>
<text transform="translate(597.6,622.0) scale(0.917,1)">39.25%</text>
<text transform="translate(597.6,664.1) scale(0.917,1)">33.47%</text>
<text transform="translate(625.3,522.7) scale(0.917,1)">62.11%</text>
<text transform="translate(625.3,599.7) scale(0.917,1)">44.25%</text>
<text transform="translate(625.3,644.9) scale(0.917,1)">33.88%</text>
<text transform="translate(653.4,628.1) scale(0.917,1)">37.67%</text>
<text transform="translate(680.9,579.2) scale(0.917,1)">49.14%</text>
<text transform="translate(680.9,669.9) scale(0.917,1)">28.00%</text>
<text transform="translate(709.0,608.8) scale(0.917,1)">42.29%</text>
<text transform="translate(709.0,654.0) scale(0.917,1)">35.73%</text>
<text transform="translate(736.6,639.4) scale(0.917,1)">35.30%</text>
<text transform="translate(736.6,669.9) scale(0.917,1)">32.00%</text>
<text transform="translate(764.7,579.2) scale(0.917,1)">49.09%</text>
<text transform="translate(764.7,596.9) scale(0.917,1)">44.88%</text>
<text transform="translate(764.7,612.2) scale(0.917,1)">41.43%</text>
<text transform="translate(792.5,641.8) scale(0.917,1)">38.50%</text>
<text transform="translate(792.5,658.0) scale(0.917,1)">30.71%</text>
<text transform="translate(792.5,673.9) scale(0.917,1)">27.00%</text>
<text transform="translate(820.6,574.6) scale(0.917,1)">50.13%</text>
<text transform="translate(820.6,694.6) scale(0.917,1)">22.33%</text>
<text transform="translate(848.7,596.0) scale(0.917,1)">49.14%</text>
<text transform="translate(848.7,622.9) scale(0.917,1)">38.90%</text>
<text transform="translate(876.5,641.8) scale(0.917,1)">34.45%</text>
<text transform="translate(904.6,543.2) scale(0.917,1)">57.57%</text>
<text transform="translate(904.6,665.3) scale(0.917,1)">29.25%</text>
<text transform="translate(904.6,693.7) scale(0.917,1)">26.33%</text>
<text transform="translate(932.1,632.7) scale(0.917,1)">36.73%</text>
<text transform="translate(932.1,650.1) scale(0.917,1)">36.60%</text>
<text transform="translate(988.0,626.6) scale(0.917,1)">38.11%</text>
<text transform="translate(988.0,642.4) scale(0.917,1)">34.33%</text>
<text transform="translate(988.0,676.9) scale(0.917,1)">26.49%</text>
<text transform="translate(1016.4,659.0) scale(0.917,1)">30.68%</text>
<text transform="translate(1016.4,701.5) scale(0.917,1)">20.80%</text>
<text transform="translate(1044.2,686.4) scale(0.917,1)">28.20%</text>
<text transform="translate(1044.2,730.6) scale(0.917,1)">14.23%</text>
<text transform="translate(1071.8,611.4) scale(0.917,1)">41.66%</text>
<text transform="translate(1071.8,633.6) scale(0.917,1)">36.72%</text>
<text transform="translate(1071.8,655.1) scale(0.917,1)">31.57%</text>
</g>
<g font-size="10" fill="#f4f4f4" stroke="#f4f4f4" stroke-width="0.2" text-anchor="end" font-family="Liberation Sans, sans-serif">
<text transform="translate(106,149.1) scale(0.92,1)">80K</text>
<text transform="translate(106,179.4) scale(0.92,1)">70K</text>
<text transform="translate(106,211.9) scale(0.92,1)">60K</text>
<text transform="translate(106,243.8) scale(0.92,1)">50K</text>
<text transform="translate(106,276.0) scale(0.92,1)">40K</text>
<text transform="translate(106,308.6) scale(0.92,1)">30K</text>
<text transform="translate(106,340.6) scale(0.92,1)">20K</text>
<text transform="translate(106,373.1) scale(0.92,1)">10K</text>
<text transform="translate(106,400.1) scale(0.92,1)">0</text>
<text transform="translate(106,497.6) scale(0.926,1)">70.00%</text>
<text transform="translate(106,539.2) scale(0.926,1)">60.00%</text>
<text transform="translate(106,582.0) scale(0.926,1)">50.00%</text>
<text transform="translate(106,625.1) scale(0.926,1)">40.00%</text>
<text transform="translate(106,668.3) scale(0.926,1)">30.00%</text>
<text transform="translate(106,711.6) scale(0.926,1)">20.00%</text>
<text transform="translate(106,749.3) scale(0.926,1)">10.00%</text>
</g>
<g font-size="11" fill="#f8f8f8" stroke="#f8f8f8" stroke-width="0.25" text-anchor="end" font-family="Liberation Sans, sans-serif">
<text transform="translate(127.5,409.5) rotate(-90) scale(0.862,1)">Jan 2008</text>
<text transform="translate(155.4,409.5) rotate(-90) scale(0.862,1)">Feb 2008</text>
<text transform="translate(183.3,409.5) rotate(-90) scale(0.862,1)">Mar 2008</text>
<text transform="translate(211.2,409.5) rotate(-90) scale(0.862,1)">Apr 2008</text>
<text transform="translate(239.1,409.5) rotate(-90) scale(0.862,1)">May 2008</text>
<text transform="translate(267.0,409.5) rotate(-90) scale(0.862,1)">Jun 2008</text>
<text transform="translate(294.9,409.5) rotate(-90) scale(0.862,1)">Jul 2008</text>
<text transform="translate(322.8,409.5) rotate(-90) scale(0.862,1)">Aug 2008</text>
<text transform="translate(350.7,409.5) rotate(-90) scale(0.862,1)">Sep 2008</text>
<text transform="translate(378.6,409.5) rotate(-90) scale(0.862,1)">Oct 2008</text>
<text transform="translate(406.5,409.5) rotate(-90) scale(0.862,1)">Nov 2008</text>
<text transform="translate(434.4,409.5) rotate(-90) scale(0.862,1)">Dec 2008</text>
<text transform="translate(462.3,409.5) rotate(-90) scale(0.862,1)">Jan 2009</text>
<text transform="translate(490.2,409.5) rotate(-90) scale(0.862,1)">Feb 2009</text>
<text transform="translate(518.1,409.5) rotate(-90) scale(0.862,1)">Mar 2009</text>
<text transform="translate(546.0,409.5) rotate(-90) scale(0.862,1)">Apr 2009</text>
<text transform="translate(573.9,409.5) rotate(-90) scale(0.862,1)">May 2009</text>
<text transform="translate(601.8,409.5) rotate(-90) scale(0.862,1)">Jun 2009</text>
<text transform="translate(629.7,409.5) rotate(-90) scale(0.862,1)">Jul 2009</text>
<text transform="translate(657.6,409.5) rotate(-90) scale(0.862,1)">Aug 2009</text>
<text transform="translate(685.5,409.5) rotate(-90) scale(0.862,1)">Sep 2009</text>
<text transform="translate(713.4,409.5) rotate(-90) scale(0.862,1)">Oct 2009</text>
<text transform="translate(741.3,409.5) rotate(-90) scale(0.862,1)">Nov 2009</text>
<text transform="translate(769.2,409.5) rotate(-90) scale(0.862,1)">Dec 2009</text>
<text transform="translate(797.1,409.5) rotate(-90) scale(0.862,1)">Jan 2010</text>
<text transform="translate(825.0,409.5) rotate(-90) scale(0.862,1)">Feb 2010</text>
<text transform="translate(852.9,409.5) rotate(-90) scale(0.862,1)">Mar 2010</text>
<text transform="translate(880.8,409.5) rotate(-90) scale(0.862,1)">Apr 2010</text>
<text transform="translate(908.7,409.5) rotate(-90) scale(0.862,1)">May 2010</text>
<text transform="translate(936.6,409.5) rotate(-90) scale(0.862,1)">Jun 2010</text>
<text transform="translate(964.5,409.5) rotate(-90) scale(0.862,1)">Jul 2010</text>
<text transform="translate(992.4,409.5) rotate(-90) scale(0.862,1)">Aug 2010</text>
<text transform="translate(1020.3,409.5) rotate(-90) scale(0.862,1)">Sep 2010</text>
<text transform="translate(1048.2,409.5) rotate(-90) scale(0.862,1)">Oct 2010</text>
<text transform="translate(1076.1,409.5) rotate(-90) scale(0.862,1)">Nov 2010</text>
<text transform="translate(1104.0,409.5) rotate(-90) scale(0.862,1)">Dec 2010</text>
<text transform="translate(127.5,758.5) rotate(-90) scale(0.862,1)">Jan 2008</text>
<text transform="translate(155.4,758.5) rotate(-90) scale(0.862,1)">Feb 2008</text>
<text transform="translate(183.3,758.5) rotate(-90) scale(0.862,1)">Mar 2008</text>
<text transform="translate(211.2,758.5) rotate(-90) scale(0.862,1)">Apr 2008</text>
<text transform="translate(239.1,758.5) rotate(-90) scale(0.862,1)">May 2008</text>
<text transform="translate(267.0,758.5) rotate(-90) scale(0.862,1)">Jun 2008</text>
<text transform="translate(294.9,758.5) rotate(-90) scale(0.862,1)">Jul 2008</text>
<text transform="translate(322.8,758.5) rotate(-90) scale(0.862,1)">Aug 2008</text>
<text transform="translate(350.7,758.5) rotate(-90) scale(0.862,1)">Sep 2008</text>
<text transform="translate(378.6,758.5) rotate(-90) scale(0.862,1)">Oct 2008</text>
<text transform="translate(406.5,758.5) rotate(-90) scale(0.862,1)">Nov 2008</text>
<text transform="translate(434.4,758.5) rotate(-90) scale(0.862,1)">Dec 2008</text>
<text transform="translate(462.3,758.5) rotate(-90) scale(0.862,1)">Jan 2009</text>
<text transform="translate(490.2,758.5) rotate(-90) scale(0.862,1)">Feb 2009</text>
<text transform="translate(518.1,758.5) rotate(-90) scale(0.862,1)">Mar 2009</text>
<text transform="translate(546.0,758.5) rotate(-90) scale(0.862,1)">Apr 2009</text>
<text transform="translate(573.9,758.5) rotate(-90) scale(0.862,1)">May 2009</text>
<text transform="translate(601.8,758.5) rotate(-90) scale(0.862,1)">Jun 2009</text>
<text transform="translate(629.7,758.5) rotate(-90) scale(0.862,1)">Jul 2009</text>
<text transform="translate(657.6,758.5) rotate(-90) scale(0.862,1)">Aug 2009</text>
<text transform="translate(685.5,758.5) rotate(-90) scale(0.862,1)">Sep 2009</text>
<text transform="translate(713.4,758.5) rotate(-90) scale(0.862,1)">Oct 2009</text>
<text transform="translate(741.3,758.5) rotate(-90) scale(0.862,1)">Nov 2009</text>
<text transform="translate(769.2,758.5) rotate(-90) scale(0.862,1)">Dec 2009</text>
<text transform="translate(797.1,758.5) rotate(-90) scale(0.862,1)">Jan 2010</text>
<text transform="translate(825.0,758.5) rotate(-90) scale(0.862,1)">Feb 2010</text>
<text transform="translate(852.9,758.5) rotate(-90) scale(0.862,1)">Mar 2010</text>
<text transform="translate(880.8,758.5) rotate(-90) scale(0.862,1)">Apr 2010</text>
<text transform="translate(908.7,758.5) rotate(-90) scale(0.862,1)">May 2010</text>
<text transform="translate(936.6,758.5) rotate(-90) scale(0.862,1)">Jun 2010</text>
<text transform="translate(964.5,758.5) rotate(-90) scale(0.862,1)">Jul 2010</text>
<text transform="translate(992.4,758.5) rotate(-90) scale(0.862,1)">Aug 2010</text>
<text transform="translate(1020.3,758.5) rotate(-90) scale(0.862,1)">Sep 2010</text>
<text transform="translate(1048.2,758.5) rotate(-90) scale(0.862,1)">Oct 2010</text>
<text transform="translate(1076.1,758.5) rotate(-90) scale(0.862,1)">Nov 2010</text>
<text transform="translate(1104.0,758.5) rotate(-90) scale(0.862,1)">Dec 2010</text>
</g>
<g font-size="12" fill="#f8f8f8" stroke="#f8f8f8" stroke-width="0.2" text-anchor="middle" font-family="Liberation Sans, sans-serif">
<text x="612" y="470">dateKey full month name</text>
<text x="612" y="819">dateKey full month name</text>
<text transform="translate(60.8,270.3) rotate(-90)" font-size="13" textLength="25.5" lengthAdjust="spacingAndGlyphs">Sales</text>
<text transform="translate(60.8,618.9) rotate(-90)" font-size="13" textLength="36.2" lengthAdjust="spacingAndGlyphs">Margin</text>
</g>
</svg>
<svg class="abs" style="left:1140px;top:640px" width="30" height="30" viewBox="1140 640 30 30">
 <path d="M1150.5,646.5 L1150.5,662.3 L1154.3,658.8 L1157.1,664.6 L1159.6,663.5 L1157,658 L1161.8,658 Z" fill="#fff" stroke="#000" stroke-width="0.9" stroke-linejoin="miter"/>
</svg>
<div class="abs" style="left:0;top:834px;width:1298px;height:1px;background:#565656"></div>
<div class="abs" style="left:0;top:826px;width:8px;height:9px;background:#c8c8c8"></div>
<div class="abs" style="left:0;top:826px;width:8px;height:8px;background:#353535;border-bottom-left-radius:6px"></div>
<div class="abs" style="left:1290px;top:826px;width:8px;height:9px;background:#c8c8c8"></div>
<div class="abs" style="left:1290px;top:826px;width:8px;height:8px;background:#353535;border-bottom-right-radius:6px"></div>
</body></html>
